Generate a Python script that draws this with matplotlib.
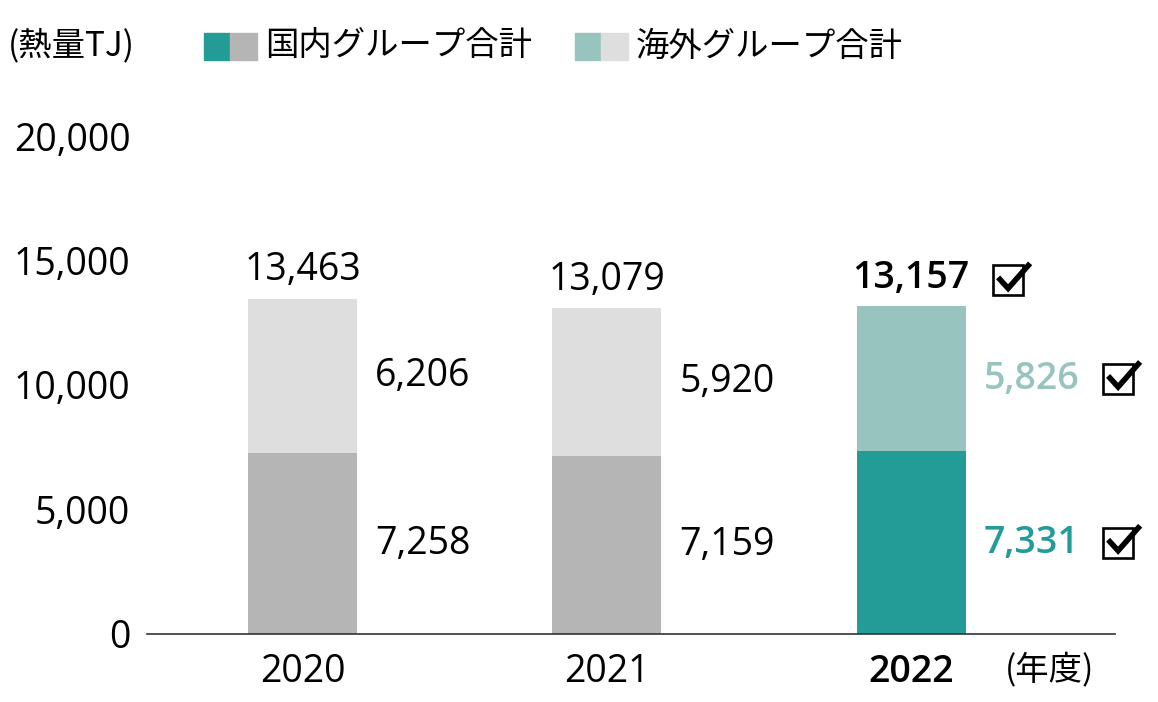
import matplotlib
matplotlib.use('Agg')
import matplotlib.pyplot as plt
from matplotlib.patches import Rectangle
from matplotlib.lines import Line2D
from matplotlib.transforms import IdentityTransform

plt.rcParams['font.family'] = ['Noto Sans CJK JP', 'DejaVu Sans']

years = ['2020', '2021', '2022']
domestic = [7258, 7159, 7331]
overseas = [6206, 5920, 5826]
totals = [13463, 13079, 13157]
yticks = [0, 5000, 10000, 15000, 20000]

TEAL = '#239c97'
GRAY = '#b4b5b4'
LTEAL = '#98c4c0'
LGRAY = '#dddedd'

W, H = 1158, 702
fig = plt.figure(figsize=(W / 100, H / 100), dpi=100)
ax = fig.add_axes([147 / W, 1 - 634 / H, (1115 - 147) / W, (634 - 136) / H])

x = list(range(len(years)))
w = 0.358
dom_colors = [GRAY, GRAY, TEAL]
ovs_colors = [LGRAY, LGRAY, LTEAL]
ax.bar(x, domestic, width=w, color=dom_colors, zorder=2)
ax.bar(x, overseas, width=w, bottom=domestic, color=ovs_colors, zorder=2)

ax.set_xlim(-0.511, 2.67)
ax.set_ylim(0, 20000)

NUM = ['Open Sans', 'DejaVu Sans']
fs = 27
for i in x:
    hl = (i == len(years) - 1)
    wt = 'semibold' if hl else 'normal'
    ax.annotate(f'{totals[i]:,}', (i, totals[i]), xytext=(0, 7), textcoords='offset points',
                ha='center', va='bottom', fontsize=fs, family=NUM, fontweight=wt, color='black')
    ax.text(i + 0.238, domestic[i] / 2, f'{domestic[i]:,}', ha='left', va='center',
            fontsize=fs, family=NUM, fontweight=wt, color=TEAL if hl else 'black')
    ax.text(i + 0.238, domestic[i] + overseas[i] / 2, f'{overseas[i]:,}', ha='left', va='center',
            fontsize=fs, family=NUM, fontweight=wt, color=LTEAL if hl else 'black')


# check boxes (pixel units, left edge / vertical centre)
def draw_check(left, cy):
    s = 30
    b = cy - s / 2
    fig.patches.append(Rectangle((left, b), s, s, transform=IdentityTransform(),
                                 fill=False, edgecolor='black', linewidth=1.9, figure=fig))
    fig.lines.append(Line2D([left + 5, left + 15, left + 37], [b + 18, b + 7, b + 32],
                            transform=IdentityTransform(), color='black', linewidth=4.0,
                            solid_joinstyle='miter', solid_capstyle='butt', figure=fig))


i = len(years) - 1
px_c, px_tot = ax.transData.transform((i, totals[i]))
_, px_dom = ax.transData.transform((i, domestic[i] / 2))
_, px_ovs = ax.transData.transform((i, domestic[i] + overseas[i] / 2))
draw_check(px_c + 82, px_tot + 26)
draw_check(px_c + 192, px_ovs)
draw_check(px_c + 192, px_dom)

for s in ['top', 'right', 'left']:
    ax.spines[s].set_visible(False)
ax.spines['bottom'].set_linewidth(1.2)
ax.spines['bottom'].set_color('#333333')

ax.set_yticks(yticks)
ax.set_yticklabels([f'{v:,}' for v in yticks], fontsize=fs, family=NUM)
ax.tick_params(axis='y', length=0, pad=12)
ax.set_xticks(x)
ax.set_xticklabels(years, fontsize=fs, family=NUM)
ax.get_xticklabels()[-1].set_fontweight('semibold')
ax.tick_params(axis='x', length=0, pad=14)

fig.text(1050 / W, 1 - 670 / H, '(年度)', ha='center', va='center', fontsize=24)
fig.text(8 / W, 1 - 46 / H, '(熱量TJ)', ha='left', va='center', fontsize=24)


# legend
def legend_item(x0, c1, c2, label):
    fig.patches.append(Rectangle((x0 / W, 1 - 60 / H), 26 / W, 27 / H,
                                 transform=fig.transFigure, color=c1, figure=fig))
    fig.patches.append(Rectangle(((x0 + 26) / W, 1 - 60 / H), 27 / W, 27 / H,
                                 transform=fig.transFigure, color=c2, figure=fig))
    fig.text((x0 + 61) / W, 1 - 46 / H, label, ha='left', va='center', fontsize=24)


legend_item(204, TEAL, GRAY, '国内グループ合計')
legend_item(575, LTEAL, LGRAY, '海外グループ合計')

fig.savefig('out.png', dpi=100)
